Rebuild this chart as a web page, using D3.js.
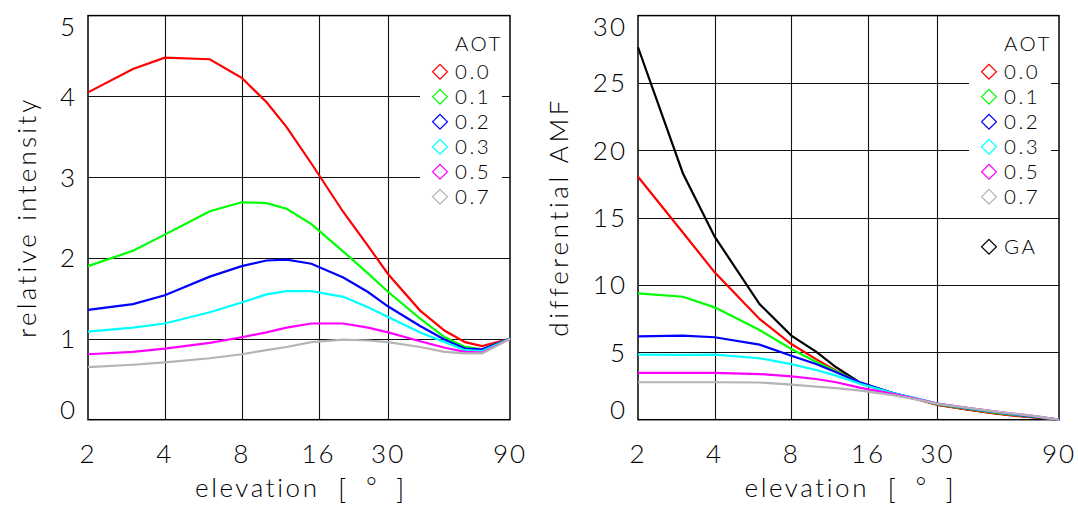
<!DOCTYPE html>
<html>
<head>
<meta charset="utf-8">
<script src="https://cdn.jsdelivr.net/npm/d3@7"></script>
<style>
  body { margin: 0; background: #fff; }
  svg text { font-family: "Lato", "DejaVu Sans", sans-serif; font-size: 26px; font-weight: 300; fill: #000; letter-spacing: 2px; }
  svg text.leg { font-size: 20.5px; letter-spacing: 2.5px; }
</style>
</head>
<body>
<svg id="chart" width="1078" height="508"></svg>
<script>
// elevation angles (deg) of the model runs
var elevation = [2, 3, 4, 6, 8, 10, 12, 15, 20, 25, 30, 40, 50, 60, 70, 90];
var xTicks = [2, 4, 8, 16, 30, 90];
var aotLabels = ["0.0", "0.1", "0.2", "0.3", "0.5", "0.7"];
var aotColors = ["#ff0000", "#00ff00", "#0000ff", "#00ffff", "#ff00ff", "#b4b4b4"];

// left panel: relative intensity
var intTicks = [0, 1, 2, 3, 4, 5];
var int00 = [4.05, 4.34, 4.48, 4.46, 4.23, 3.93, 3.62, 3.17, 2.57, 2.15, 1.80, 1.35, 1.10, 0.96, 0.91, 1.00];
var int01 = [1.90, 2.09, 2.29, 2.58, 2.69, 2.68, 2.61, 2.42, 2.08, 1.81, 1.58, 1.25, 1.02, 0.90, 0.87, 1.00];
var int02 = [1.36, 1.43, 1.54, 1.77, 1.90, 1.97, 1.98, 1.93, 1.76, 1.58, 1.40, 1.16, 0.99, 0.88, 0.87, 1.00];
var int03 = [1.09, 1.14, 1.19, 1.33, 1.45, 1.55, 1.59, 1.59, 1.52, 1.39, 1.27, 1.08, 0.96, 0.86, 0.85, 1.00];
var int05 = [0.81, 0.84, 0.88, 0.95, 1.02, 1.08, 1.14, 1.19, 1.19, 1.14, 1.08, 0.97, 0.89, 0.84, 0.83, 1.00];
var int07 = [0.65, 0.68, 0.71, 0.76, 0.81, 0.86, 0.90, 0.96, 0.99, 0.98, 0.96, 0.90, 0.84, 0.82, 0.82, 1.00];

// right panel: differential AMF
var amfTicks = [0, 5, 10, 15, 20, 25, 30];
var amf00 = [18.04, 13.9, 10.94, 7.48, 5.62, 4.5, 3.64, 2.68, 1.95, 1.5, 1.1, 0.72, 0.46, 0.3, 0.18, 0];
var amf01 = [9.38, 9.13, 8.34, 6.66, 5.25, 4.3, 3.6, 2.7, 1.97, 1.52, 1.14, 0.78, 0.53, 0.36, 0.23, 0];
var amf02 = [6.19, 6.24, 6.12, 5.57, 4.75, 4.13, 3.52, 2.75, 1.98, 1.55, 1.17, 0.82, 0.57, 0.39, 0.25, 0];
var amf03 = [4.83, 4.82, 4.83, 4.56, 4.13, 3.69, 3.27, 2.65, 1.98, 1.56, 1.19, 0.85, 0.6, 0.42, 0.28, 0];
var amf05 = [3.47, 3.47, 3.47, 3.39, 3.22, 3.02, 2.78, 2.36, 1.92, 1.53, 1.2, 0.87, 0.62, 0.44, 0.3, 0];
var amf07 = [2.78, 2.78, 2.78, 2.76, 2.6, 2.45, 2.35, 2.16, 1.82, 1.49, 1.18, 0.86, 0.62, 0.44, 0.3, 0];
var amfGA = [27.65, 18.3, 13.59, 8.59, 6.24, 5.05, 3.89, 2.72, 1.98, 1.52, 1.12, 0.75, 0.48, 0.32, 0.2, 0];

var svg = d3.select("#chart");
var top_ = 15.6, bottom_ = 419.7;

function drawPanel(p) {
  var x = d3.scaleLog().domain([2, 90]).range([p.left, p.right]);
  var y = d3.scaleLinear().domain([0, d3.max(p.ticks)]).range([bottom_, top_]);
  var g = svg.append("g");

  // grid
  g.selectAll(".vgrid").data(xTicks.slice(1, -1)).enter().append("line")
    .attr("x1", function(d) { return Math.round(x(d)) + 0.5; }).attr("x2", function(d) { return Math.round(x(d)) + 0.5; })
    .attr("y1", top_).attr("y2", bottom_)
    .attr("stroke", "#111").attr("stroke-width", 1.1);
  g.selectAll(".hgrid").data(p.ticks.slice(1, -1)).enter().append("line")
    .attr("x1", p.left).attr("x2", p.right)
    .attr("y1", function(d) { return Math.round(y(d)) + 0.5; }).attr("y2", function(d) { return Math.round(y(d)) + 0.5; })
    .attr("stroke", "#111").attr("stroke-width", 1.1);

  // white legend box hides the grid behind it
  g.append("rect")
    .attr("x", p.right - 90).attr("y", 26)
    .attr("width", 82).attr("height", 182)
    .attr("fill", "#fff");

  // frame
  g.append("rect")
    .attr("x", p.left).attr("y", top_)
    .attr("width", p.right - p.left).attr("height", bottom_ - top_)
    .attr("fill", "none").attr("stroke", "#000").attr("stroke-width", 1.5);

  // tick labels
  var maxT = d3.max(p.ticks);
  g.selectAll(".ylab").data(p.ticks).enter().append("text")
    .attr("x", p.left - 11)
    .attr("y", function(d) { return y(d) + (d === 0 ? -10 : d === maxT ? 11 : 0); })
    .attr("dy", "0.36em")
    .attr("text-anchor", "end")
    .text(function(d) { return d; });
  g.selectAll(".xlab").data(xTicks).enter().append("text")
    .attr("x", function(d) { return x(d); })
    .attr("y", 463)
    .attr("text-anchor", "middle")
    .text(function(d) { return d; });

  // axis titles
  var cx = (p.left + p.right) / 2;
  var t = g.append("text").attr("y", 497);
  t.append("tspan").attr("x", cx - 104).attr("textLength", 124).attr("lengthAdjust", "spacing").text("elevation");
  t.append("tspan").attr("x", cx + 39).attr("y", 499).style("font-size", "28px").text("[");
  t.append("tspan").attr("x", cx + 67).attr("y", 496).text("°");
  t.append("tspan").attr("x", cx + 97).attr("y", 499).style("font-size", "28px").text("]");
  g.append("text")
    .attr("transform", "translate(" + (p.left - p.titleOff) + "," + ((top_ + bottom_) / 2) + ") rotate(-90)")
    .attr("text-anchor", "middle")
    .attr("textLength", p.titleLen).attr("lengthAdjust", "spacing")
    .text(p.title);

  // curves
  var line = d3.line()
    .x(function(d, i) { return x(elevation[i]); })
    .y(function(d) { return y(d); });
  p.series.forEach(function(s) {
    g.append("path")
      .attr("d", line(s.values))
      .attr("fill", "none")
      .attr("stroke", s.color)
      .attr("stroke-width", 2.2);
  });

  // legend
  var lx = p.right - 55;
  var diamond = d3.symbol().type(d3.symbolSquare).size(110);
  g.append("text").attr("class", "leg").attr("x", lx).attr("y", 51).text("AOT");
  aotLabels.forEach(function(lab, i) {
    var cy = 71.7 + i * 25;
    g.append("path")
      .attr("d", diamond())
      .attr("transform", "translate(" + (p.right - 70) + "," + cy + ") rotate(45)")
      .attr("fill", "none").attr("stroke", aotColors[i]).attr("stroke-width", 1.2);
    g.append("text").attr("class", "leg").attr("x", lx).attr("y", cy + 7.5).text(lab);
  });
  if (p.extra) {
    var cy = 246.7;
    g.append("path")
      .attr("d", diamond())
      .attr("transform", "translate(" + (p.right - 70) + "," + cy + ") rotate(45)")
      .attr("fill", "none").attr("stroke", "#000").attr("stroke-width", 1.2);
    g.append("text").attr("class", "leg").attr("x", lx).attr("y", cy + 7.5).text(p.extra);
  }
}

drawPanel({
  left: 88, right: 510, ticks: intTicks, title: "relative intensity", titleOff: 52, titleLen: 240,
  series: [int00, int01, int02, int03, int05, int07].map(function(v, i) { return {values: v, color: aotColors[i]}; })
});
drawPanel({
  left: 638, right: 1059, ticks: amfTicks, title: "differential AMF", titleOff: 70, titleLen: 238, extra: "GA",
  series: [{values: amfGA, color: "#000"}].concat(
    [amf00, amf01, amf02, amf03, amf05, amf07].map(function(v, i) { return {values: v, color: aotColors[i]}; }))
});
</script>
</body>
</html>
